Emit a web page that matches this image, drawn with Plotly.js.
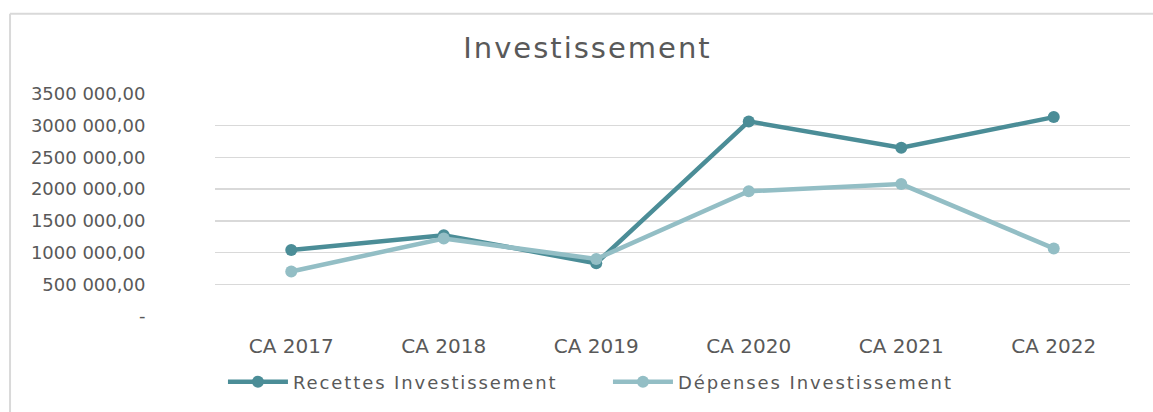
<!DOCTYPE html>
<html>
<head>
<meta charset="utf-8">
<script src="https://cdn.plot.ly/plotly-3.0.1.min.js"></script>
<style>
html,body{margin:0;padding:0;background:#fff;}
#chart{width:1153px;height:412px;}
text.legendtext{letter-spacing:1.9px;}
text.gtitle{letter-spacing:2px;}
</style>
</head>
<body>
<div id="chart"></div>
<script>
const categories = ["CA 2017", "CA 2018", "CA 2019", "CA 2020", "CA 2021", "CA 2022"];
const recettes = [1040000, 1273000, 832000, 3068000, 2653000, 3136000];
const depenses = [702000, 1222000, 899000, 1966000, 2080000, 1066000];
const tickValues = [0, 500000, 1000000, 1500000, 2000000, 2500000, 3000000, 3500000];
const tickLabels = ["-", "500 000,00", "1000 000,00", "1500 000,00", "2000 000,00", "2500 000,00", "3000 000,00", "3500 000,00"];
const seriesNames = ["Recettes Investissement", "Dépenses Investissement"];

const grey = "#595959";
const fam = "DejaVu Sans";
const traces = [
  {x: categories, y: recettes, name: seriesNames[0], type: "scatter", mode: "lines+markers",
   line: {color: "#4B8D97", width: 4.5}, marker: {color: "#4B8D97", size: 12}},
  {x: categories, y: depenses, name: seriesNames[1], type: "scatter", mode: "lines+markers",
   line: {color: "#93BEC5", width: 4.5}, marker: {color: "#93BEC5", size: 12}}
];
const layout = {
  width: 1153, height: 412,
  margin: {l: 215, r: 23, t: 94, b: 94},
  paper_bgcolor: "#fff", plot_bgcolor: "#fff",
  title: {text: "Investissement", x: 0.5095, xanchor: "center", y: 0.885, yanchor: "middle",
          font: {family: fam, size: 29, color: grey}},
  font: {family: fam, color: grey},
  xaxis: {type: "category", range: [-0.5, 5.5], showgrid: false, zeroline: false,
          showline: false, ticks: "", ticklabelstandoff: 16,
          tickfont: {family: fam, size: 20, color: grey}},
  yaxis: {range: [0, 3500000], tickvals: tickValues, ticktext: tickLabels,
          showgrid: true, gridcolor: "#D9D9D9", gridwidth: 1.5, zeroline: false,
          showline: false, ticks: "outside", ticklen: 65, tickcolor: "rgba(0,0,0,0)",
          tickfont: {family: fam, size: 18, color: grey}},
  legend: {orientation: "h", x: 0.0087, xanchor: "left", y: -0.297, yanchor: "middle",
           font: {family: fam, size: 18, color: grey}, itemwidth: 60,
           entrywidth: 310, entrywidthmode: "pixels", bgcolor: "rgba(0,0,0,0)"},
  showlegend: true,
  shapes: [
    {type: "line", xref: "paper", yref: "paper", x0: -0.224, x1: 1.03, y0: 1.361, y1: 1.361,
     line: {color: "#D9D9D9", width: 2}},
    {type: "line", xref: "paper", yref: "paper", x0: -0.224, x1: -0.224, y0: 1.361, y1: -0.45,
     line: {color: "#D9D9D9", width: 2}}
  ]
};
Plotly.newPlot("chart", traces, layout, {displayModeBar: false, staticPlot: true});
</script>
</body>
</html>
